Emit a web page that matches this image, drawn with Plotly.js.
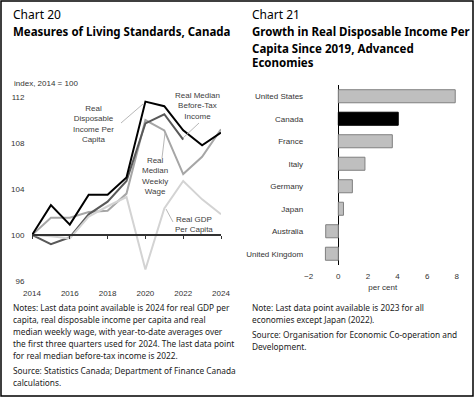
<!DOCTYPE html>
<html>
<head>
<meta charset="utf-8">
<script src="https://cdn.plot.ly/plotly-3.0.1.min.js"></script>
<style>html,body{margin:0;padding:0;background:#fff;}#chart{width:476px;height:400px;}</style>
</head>
<body>
<div id="chart"></div>
<script>
// ---- Chart 20 data ----
var years = [2014, 2015, 2016, 2017, 2018, 2019, 2020, 2021, 2022, 2023, 2024];
var rdiPerCapita = [100, 102.6, 100.9, 103.5, 103.5, 105.0, 111.6, 111.2, 109.1, 107.8, 108.9];
var yearsBeforeTax = [2014, 2015, 2016, 2017, 2018, 2019, 2020, 2021, 2022];
var medianBeforeTax = [100, 99.2, 99.8, 101.8, 102.9, 104.7, 109.7, 110.5, 108.3];
var medianWeeklyWage = [100, 101.5, 101.5, 102.0, 102.1, 103.6, 110.0, 109.1, 105.3, 106.8, 109.2];
var gdpPerCapita = [100, 99.9, 99.7, 101.6, 102.5, 103.3, 97.0, 102.3, 104.7, 103.1, 101.8];
var yTicks20 = [96, 100, 104, 108, 112];
var xTicks20 = [2014, 2016, 2018, 2020, 2022, 2024];

// ---- Chart 21 data ----
var countries = ["United States", "Canada", "France", "Italy", "Germany", "Japan", "Australia", "United Kingdom"];
var growth = [7.9, 4.05, 3.65, 1.8, 0.95, 0.35, -0.85, -0.87];
var xTicks21 = [-2, 0, 2, 4, 6, 8];

var W = 476, H = 400;
function PX(x) { return x / W; }
function PY(y) { return 1 - y / H; }

var tickFont = {family: "Liberation Sans, Arial, sans-serif", size: 8, color: "#333"};
var noteFont = {family: "Noto Sans, Open Sans, sans-serif", size: 8.3, color: "#222"};

var x20dom = [PX(32), PX(221)];
var y20dom = [PY(281), PY(97)];
var y20range = [96, 112];
var pos100 = y20dom[0] + (100 - y20range[0]) / (y20range[1] - y20range[0]) * (y20dom[1] - y20dom[0]);

var traces = [
  {x: years, y: gdpPerCapita, type: "scatter", mode: "lines", line: {color: "#d3d3d3", width: 2}, xaxis: "x3", yaxis: "y", name: "Real GDP Per Capita"},
  {x: years, y: medianWeeklyWage, type: "scatter", mode: "lines", line: {color: "#a6a6a6", width: 2}, xaxis: "x", yaxis: "y", name: "Real Median Weekly Wage"},
  {x: yearsBeforeTax, y: medianBeforeTax, type: "scatter", mode: "lines", line: {color: "#595959", width: 2}, xaxis: "x", yaxis: "y", name: "Real Median Before-Tax Income"},
  {x: years, y: rdiPerCapita, type: "scatter", mode: "lines", line: {color: "#000000", width: 2}, xaxis: "x", yaxis: "y", name: "Real Disposable Income Per Capita"},
  {y: countries, x: growth, type: "bar", orientation: "h", xaxis: "x2", yaxis: "y2",
   marker: {color: countries.map(function (c) { return c === "Canada" ? "#000000" : "#bfbfbf"; }),
            line: {color: countries.map(function (c) { return c === "Canada" ? "#000000" : "#7f7f7f"; }), width: 1}},
   name: "Growth"}
];

function ann(text, x, y, font, xanchor, extra) {
  var a = {text: text, x: PX(x), y: PY(y), xref: "paper", yref: "paper", showarrow: false,
           xanchor: xanchor || "left", yanchor: "middle", font: font, align: xanchor === "center" ? "center" : "left"};
  if (extra) for (var k in extra) a[k] = extra[k];
  return a;
}

var titleFont = {family: "Noto Sans, Open Sans, sans-serif", size: 12, color: "#000"};
var boldFont = {family: "Noto Sans, Open Sans, sans-serif", size: 11.5, color: "#000", weight: 700};
var lblFont = {family: "Liberation Sans, Arial, sans-serif", size: 8, color: "#404040"};

var annotations = [
  ann("Chart 20", 11, 15, titleFont),
  ann("<b>Measures of Living Standards, Canada</b>", 11, 32, boldFont),
  ann("Chart 21", 250, 15, titleFont),
  ann("<b>Growth in Real Disposable Income Per</b>", 250, 32, boldFont),
  ann("<b>Capita Since 2019, Advanced</b>", 250, 48, boldFont),
  ann("<b>Economies</b>", 250, 63, boldFont),
  ann("index, 2014 = 100", 12, 84, tickFont),
  // series labels
  ann("Real<br>Disposable<br>Income Per<br>Capita", 93, 124, lblFont, "center"),
  ann("Real Median<br>Before-Tax<br>Income", 197, 106, lblFont, "center"),
  ann("Real<br>Median<br>Weekly<br>Wage", 155, 176, lblFont, "center"),
  ann("Real GDP<br>Per Capita", 194, 224, lblFont, "center"),
  // notes left
  ann("Notes: Last data point available is 2024 for real GDP per", 11, 307, noteFont),
  ann("capita, real disposable income per capita and real", 11, 319, noteFont),
  ann("median weekly wage, with year-to-date averages over", 11, 331, noteFont),
  ann("the first three quarters used for 2024. The last data point", 11, 343, noteFont),
  ann("for real median before-tax income is 2022.", 11, 355, noteFont),
  ann("Source: Statistics Canada; Department of Finance Canada", 11, 370, noteFont),
  ann("calculations.", 11, 382, noteFont),
  // notes right
  ann("Note: Last data point available is 2023 for all", 250, 307, noteFont),
  ann("economies except Japan (2022).", 250, 319, noteFont),
  ann("Source: Organisation for Economic Co-operation and", 250, 334, noteFont),
  ann("Development.", 250, 346, noteFont)
];

function seg(x0, y0, x1, y1) {
  return {type: "line", xref: "paper", yref: "paper", x0: PX(x0), y0: PY(y0), x1: PX(x1), y1: PY(y1),
          line: {color: "#b8b8b8", width: 1}};
}

var shapes = [
  {type: "rect", xref: "paper", yref: "paper", x0: PX(1), x1: PX(473), y0: PY(396), y1: PY(1),
   line: {color: "#000", width: 1.5}, fillcolor: "rgba(0,0,0,0)"},
  seg(121, 123, 143, 104),
  seg(199, 123, 183, 138),
  seg(162, 158, 165, 133),
  seg(173, 222, 166, 209)
];

var layout = {
  width: W, height: H,
  margin: {l: 0, r: 0, t: 0, b: 0, pad: 0},
  paper_bgcolor: "#fff", plot_bgcolor: "rgba(0,0,0,0)",
  showlegend: false,
  font: tickFont,
  xaxis: {domain: x20dom, range: [2014, 2024], tickvals: xTicks20, ticks: "outside", ticklen: 4, tickcolor: "rgba(0,0,0,0)",
          showgrid: false, zeroline: false, showline: false, tickfont: tickFont, automargin: false, anchor: "y", fixedrange: true},
  xaxis3: {overlaying: "x", matches: "x", anchor: "free", position: pos100, showline: true, linecolor: "#333", linewidth: 2,
           ticks: "outside", ticklen: 3, tickwidth: 1, tickcolor: "#333", tickvals: xTicks20, showticklabels: false,
           showgrid: false, zeroline: false, automargin: false, fixedrange: true},
  yaxis: {domain: y20dom, range: y20range, tickvals: yTicks20, ticks: "outside", ticklen: 5, tickcolor: "rgba(0,0,0,0)",
          showgrid: false, zeroline: false, showline: false, tickfont: tickFont, automargin: false, anchor: "x", fixedrange: true},
  xaxis2: {domain: [PX(308.7), PX(456.7)], range: [-2, 8], tickvals: xTicks21, ticks: "outside", ticklen: 3, tickcolor: "rgba(0,0,0,0)",
           showgrid: false, zeroline: true, zerolinecolor: "#000", zerolinewidth: 1.5, showline: false, tickfont: tickFont,
           title: {text: "per cent", font: tickFont, standoff: 4}, automargin: false, anchor: "y2", fixedrange: true},
  yaxis2: {domain: [PY(265), PY(85)], autorange: "reversed", ticks: "outside", ticklen: 3, tickcolor: "rgba(0,0,0,0)",
           showgrid: false, zeroline: false, showline: false, tickfont: tickFont, automargin: false, anchor: "x2", fixedrange: true},
  bargap: 0.42,
  annotations: annotations,
  shapes: shapes
};

Plotly.newPlot("chart", traces, layout, {displayModeBar: false, staticPlot: true});
</script>
</body>
</html>
